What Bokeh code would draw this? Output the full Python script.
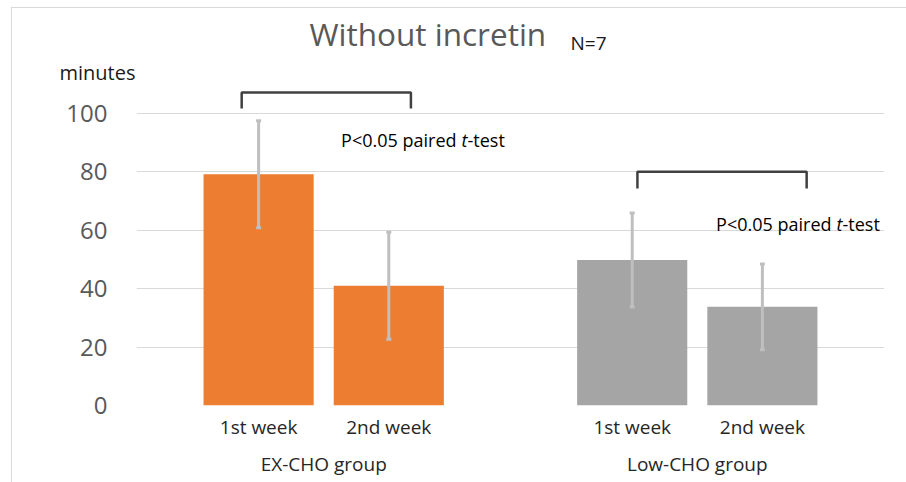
from bokeh.plotting import figure
from bokeh.layouts import column, row
from bokeh.models import (FactorRange, ColumnDataSource, Whisker, TeeHead, Label,
                          FixedTicker, Range1d)
from bokeh.core.properties import value
from bokeh.embed import file_html
from bokeh.resources import INLINE

# ---------------- data ----------------
groups = ["EX-CHO group", "Low-CHO group"]
weeks = ["1st week", "2nd week"]
ex_cho_means = [79.2, 41.0]
low_cho_means = [49.8, 33.8]
ex_cho_sd = [18.3, 18.3]
low_cho_sd = [16.1, 14.7]
y_ticks = [0, 20, 40, 60, 80, 100]
bracket_tops = [107.2, 80.1]
bracket_legs = [101.7, 74.3]
title_text = "Without incretin"
n_text = "N=7"
y_label = "minutes"
p_text_pre = "P<0.05 paired"
p_text_t = "t"
p_text_post = "-test"

# ---------------- styles ----------------
FONT = "Open Sans"
W, H_TOP, H_MAIN = 906, 85, 397
bar_colors = {"EX-CHO group": "#ED7D31", "Low-CHO group": "#A5A5A5"}
ERR = "#BFBFBF"
bracket_offsets = [(-0.13, 0.17), (0.04, 0.34)]

# ---------------- header (title, N, unit label) ----------------
head = figure(width=W, height=H_TOP, x_range=Range1d(0, W), y_range=Range1d(H_TOP, 0),
              output_backend="svg", toolbar_location=None,
              x_axis_location=None, y_axis_location=None, min_border=0)
head.grid.visible = False
head.outline_line_color = None
head.background_fill_color = None
head.border_fill_color = None
head.text(x=[309], y=[33], text=[title_text], text_font=value(FONT),
          text_font_size="31.5px", text_color="#595959", text_baseline="middle")
head.text(x=[570], y=[42], text=[n_text], text_font=value(FONT),
          text_font_size="19px", text_color="#1a1a1a", text_baseline="middle")
head.text(x=[59], y=[72], text=[y_label], text_font=value(FONT),
          text_font_size="20px", text_color="#1a1a1a", text_baseline="middle")

# ---------------- main chart ----------------
factors = [(g, w) for g in groups for w in weeks]
means = ex_cho_means + low_cho_means
sds = ex_cho_sd + low_cho_sd
src = ColumnDataSource(dict(
    x=factors,
    top=means,
    upper=[m + s for m, s in zip(means, sds)],
    lower=[m - s for m, s in zip(means, sds)],
    color=[bar_colors[g] for g, _ in factors],
))

p = figure(
    x_range=FactorRange(*factors, group_padding=0.87, range_padding=0.438,
                        range_padding_units="absolute"),
    y_range=Range1d(0, 109.6),
    width=W, height=H_MAIN,
    output_backend="svg", toolbar_location=None,
    min_border_left=136, min_border_right=22, min_border_top=0, min_border_bottom=77,
)
p.outline_line_color = None
p.background_fill_color = None
p.border_fill_color = None

p.vbar(x="x", top="top", width=0.846, source=src, fill_color="color", line_color=None)

w = Whisker(base="x", upper="upper", lower="lower", source=src, level="annotation",
            line_color=ERR, line_width=3,
            upper_head=TeeHead(size=5, line_color=ERR, line_width=3),
            lower_head=TeeHead(size=5, line_color=ERR, line_width=3))
p.add_layout(w)

# brackets
xs, ys = [], []
for g, (ol, orr), top, leg in zip(groups, bracket_offsets, bracket_tops, bracket_legs):
    xs.append([(g, weeks[0], ol), (g, weeks[0], ol), (g, weeks[1], orr), (g, weeks[1], orr)])
    ys.append([leg, top, top, leg])
p.multi_line(xs=xs, ys=ys, line_color="#404040", line_width=2.5)

# axes
p.xgrid.grid_line_color = None
p.ygrid.grid_line_color = "#D9D9D9"
p.ygrid.grid_line_width = 1
p.yaxis.ticker = FixedTicker(ticks=y_ticks)
p.yaxis.axis_line_color = None
p.yaxis.major_tick_line_color = None
p.yaxis.minor_tick_line_color = None
p.yaxis.major_tick_out = 0
p.yaxis.major_label_standoff = 29
p.yaxis.major_label_text_font = FONT
p.yaxis.major_label_text_font_size = "24px"
p.yaxis.major_label_text_color = "#595959"

p.xaxis.axis_line_color = None
p.xaxis.major_tick_line_color = None
p.xaxis.minor_tick_line_color = None
p.xaxis.major_tick_out = 0
p.xaxis.major_label_standoff = 8
p.xaxis.major_label_text_font = FONT
p.xaxis.major_label_text_font_size = "19px"
p.xaxis.major_label_text_color = "#262626"
p.xaxis.group_text_font = FONT
p.xaxis.group_text_font_size = "19px"
p.xaxis.group_text_font_style = "normal"
p.xaxis.group_text_color = "#262626"
p.xaxis.separator_line_color = None

# p-value notes
def lab(text, x, y, size, color="#000000", align="left", style="normal"):
    p.add_layout(Label(x=x, y=y, x_units="screen", y_units="data", text=text,
                       text_font=FONT, text_font_size=size, text_color=color,
                       text_align=align, text_baseline="middle", text_font_style=style))

for tx, yy in [(325, 90.8), (700, 62.3)]:
    lab(p_text_pre, tx - 5, yy, "18px", align="right")
    lab(p_text_t, tx, yy, "18px", style="italic")
    lab(p_text_post, tx + 6, yy, "18px")

border_css = ("linear-gradient(#D9D9D9,#D9D9D9) 11px 7px / 1px 100% no-repeat, "
              "linear-gradient(#D9D9D9,#D9D9D9) 11px 7px / 100% 1px no-repeat, #FFFFFF")
layout = column(row(head), row(p), spacing=0, styles={"background": border_css})

open("out.html", "w").write(file_html(layout, INLINE))
